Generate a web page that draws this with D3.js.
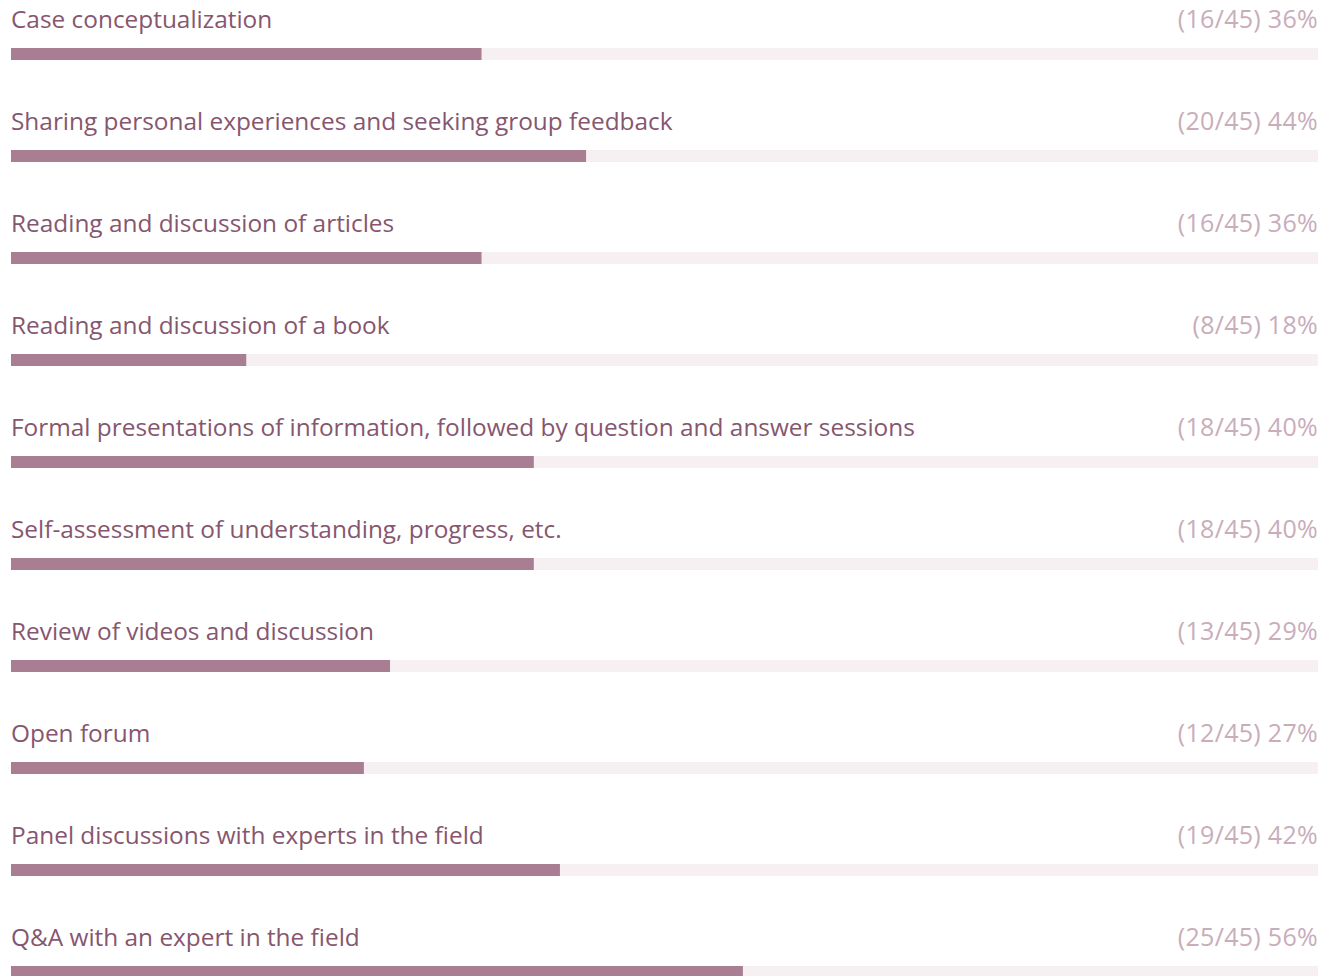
<!DOCTYPE html>
<html><head><meta charset="utf-8">
<script src="https://cdn.jsdelivr.net/npm/d3@7/dist/d3.min.js"></script>
<style>html,body{margin:0;padding:0;background:#fff;overflow:hidden}</style>
</head><body>
<svg id="c" width="1335" height="976"></svg>
<script>
const categories = [
  "Case conceptualization",
  "Sharing personal experiences and seeking group feedback",
  "Reading and discussion of articles",
  "Reading and discussion of a book",
  "Formal presentations of information, followed by question and answer sessions",
  "Self-assessment of understanding, progress, etc.",
  "Review of videos and discussion",
  "Open forum",
  "Panel discussions with experts in the field",
  "Q&A with an expert in the field"
];
const counts = [16, 20, 16, 8, 18, 18, 13, 12, 19, 25];
const totals = [45, 45, 45, 45, 45, 45, 45, 45, 45, 45];
const percents = [36, 44, 36, 18, 40, 40, 29, 27, 42, 56];

const svg = d3.select("#c");
const x = d3.scaleLinear().domain([0, 100]).range([11, 1318]);
const y = d3.scaleBand().domain(categories).range([0, 1020]).paddingInner(0).paddingOuter(0);
const font = "'Open Sans', 'Noto Sans', sans-serif";

const row = svg.selectAll("g.row").data(categories).join("g")
  .attr("class", "row")
  .attr("transform", d => `translate(0,${y(d)})`);

row.append("text")
  .attr("x", x(0)).attr("y", 28)
  .attr("font-family", font).attr("font-size", 24.4)
  .attr("fill", "#86566f")
  .text(d => d);

row.append("text")
  .attr("x", x(100)).attr("y", 28)
  .attr("text-anchor", "end")
  .attr("font-family", font).attr("font-size", 25)
  .attr("letter-spacing", 0.3)
  .attr("fill", "#c9adbb")
  .text((d, i) => `(${counts[i]}/${totals[i]}) ${percents[i]}%`);

row.append("rect")
  .attr("x", x(0)).attr("y", 48)
  .attr("width", x(100) - x(0)).attr("height", 12)
  .attr("fill", "#f6f0f2");

row.append("rect")
  .attr("x", x(0)).attr("y", 48)
  .attr("width", (d, i) => x(percents[i]) - x(0)).attr("height", 12)
  .attr("fill", "#a97e93");
</script>
</body></html>
